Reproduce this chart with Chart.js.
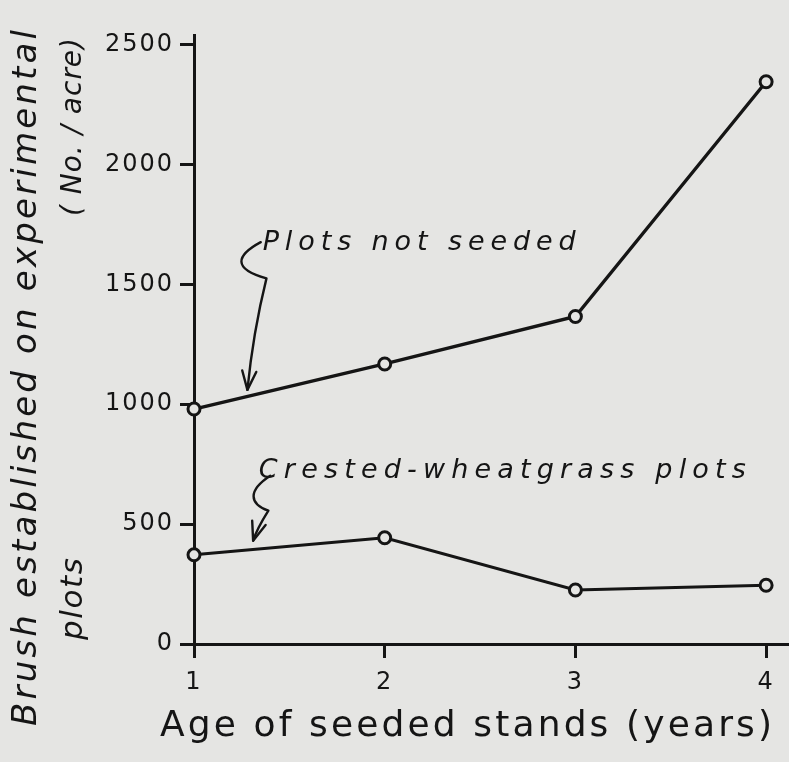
<!DOCTYPE html>
<html>
<head>
<meta charset="utf-8">
<script src="https://cdn.jsdelivr.net/npm/chart.js@4"></script>
<style>
  html, body { margin: 0; padding: 0; background: #e5e5e3; }
  #wrap { width: 789px; height: 762px; }
</style>
</head>
<body>
<div id="wrap"><canvas id="brushChart" width="789" height="762"></canvas></div>
<script>
// values
const years = [1, 2, 3, 4];
const notSeeded = [980, 1168, 1366, 2345];
const crestedWheatgrass = [372, 443, 225, 245];
const yTicks = [0, 500, 1000, 1500, 2000, 2500];
const xTitle = "Age of seeded stands (years)";

const ink = "#151515";
const paper = "#e5e5e3";

// curly pointer arrows, in data units (x = years, y = No./acre)
const notes = [
    {
        text: "Plots not seeded",
        at: [1.36, 1672], width: 313,
        curve: [[1.35, 1676], [1.22, 1620], [1.20, 1565], [1.38, 1525], [1.31, 1300], [1.28, 1060]]
    },
    {
        text: "Crested-wheatgrass plots",
        at: [1.34, 723], width: 487,
        curve: [[1.40, 702], [1.28, 640], [1.29, 585], [1.39, 556], [1.33, 480], [1.31, 431]]
    }
];

function toPoints(vals) {
    return years.map((x, i) => ({ x: x, y: vals[i] }));
}

function fitText(ctx, text, x, y, width) {
    ctx.letterSpacing = "0px";
    const w = ctx.measureText(text).width;
    const sp = Math.max(0, (width - w) / Math.max(1, text.length - 1));
    ctx.letterSpacing = sp + "px";
    ctx.fillText(text, x, y);
    ctx.letterSpacing = "0px";
}

const annotations = {
    id: "annotations",
    beforeDraw(chart) {
        // wider lettering for the tick labels
        chart.ctx.letterSpacing = "2px";
    },
    afterDraw(chart) {
        const ctx = chart.ctx;
        const xs = chart.scales.x, ys = chart.scales.y;
        ctx.letterSpacing = "0px";
        ctx.save();
        ctx.fillStyle = ink;
        ctx.strokeStyle = ink;
        ctx.lineCap = "round";
        ctx.lineJoin = "round";

        // label texts and arrows
        ctx.font = "italic 27px 'DejaVu Sans'";
        ctx.textBaseline = "middle";
        ctx.textAlign = "left";
        notes.forEach(n => {
            fitText(ctx, n.text, xs.getPixelForValue(n.at[0]), ys.getPixelForValue(n.at[1]), n.width);

            const p = n.curve.map(c => [xs.getPixelForValue(c[0]), ys.getPixelForValue(c[1])]);
            ctx.lineWidth = 2.4;
            ctx.beginPath();
            ctx.moveTo(p[0][0], p[0][1]);
            ctx.bezierCurveTo(p[1][0], p[1][1], p[2][0], p[2][1], p[3][0], p[3][1]);
            ctx.quadraticCurveTo(p[4][0], p[4][1], p[5][0], p[5][1]);
            ctx.stroke();
            const ang = Math.atan2(p[5][1] - p[4][1], p[5][0] - p[4][0]);
            const len = 20;
            ctx.beginPath();
            ctx.moveTo(p[5][0] - len * Math.cos(ang - 0.36), p[5][1] - len * Math.sin(ang - 0.36));
            ctx.lineTo(p[5][0], p[5][1]);
            ctx.lineTo(p[5][0] - len * Math.cos(ang + 0.36), p[5][1] - len * Math.sin(ang + 0.36));
            ctx.stroke();
        });

        // x axis title
        ctx.font = "36px 'DejaVu Sans'";
        fitText(ctx, xTitle, 160, 727, 612);

        // y axis title, two rotated lines
        const rot = (txt, x, yStart, width) => {
            ctx.save();
            ctx.translate(x, yStart);
            ctx.rotate(-Math.PI / 2);
            fitText(ctx, txt, 0, 0, width);
            ctx.restore();
        };
        ctx.font = "italic 34px 'DejaVu Sans'";
        rot("Brush established on experimental", 27, 726, 696);
        ctx.font = "italic 31px 'DejaVu Sans'";
        rot("plots", 74, 640, 82);
        ctx.font = "italic 28px 'DejaVu Sans'";
        rot("( No. / acre)", 74, 216, 178);
        ctx.restore();
    }
};

new Chart(document.getElementById("brushChart").getContext("2d"), {
    type: "line",
    data: {
        datasets: [
            {
                label: "Plots not seeded",
                data: toPoints(notSeeded),
                borderColor: ink,
                borderWidth: 3.4,
                pointRadius: 6,
                pointBorderWidth: 3,
                pointBackgroundColor: paper,
                pointBorderColor: ink,
                tension: 0
            },
            {
                label: "Crested-wheatgrass plots",
                data: toPoints(crestedWheatgrass),
                borderColor: ink,
                borderWidth: 3,
                pointRadius: 6,
                pointBorderWidth: 3,
                pointBackgroundColor: paper,
                pointBorderColor: ink,
                tension: 0
            }
        ]
    },
    options: {
        responsive: false,
        animation: false,
        events: [],
        clip: false,
        layout: { autoPadding: false, padding: { top: 35, right: 0, left: 0, bottom: 0 } },
        plugins: {
            legend: { display: false },
            tooltip: { enabled: false }
        },
        scales: {
            x: {
                type: "linear",
                min: 1,
                max: 4.12,
                afterBuildTicks(s) { s.ticks = years.map(v => ({ value: v })); },
                afterFit(s) { s.height = 118; s.paddingRight = 0; },
                border: { display: true, color: ink, width: 3 },
                grid: { drawOnChartArea: false, color: ink, tickLength: 14, tickWidth: 3 },
                ticks: {
                    color: ink,
                    padding: 10,
                    maxRotation: 0,
                    font: { family: "'DejaVu Sans'", size: 24 }
                }
            },
            y: {
                min: 0,
                max: 2540,
                afterBuildTicks(s) { s.ticks = yTicks.map(v => ({ value: v })); },
                afterFit(s) { s.width = 194; },
                border: { display: true, color: ink, width: 3 },
                grid: { drawOnChartArea: false, color: ink, tickLength: 14, tickWidth: 3 },
                ticks: {
                    color: ink,
                    padding: 6,
                    font: { family: "'DejaVu Sans'", size: 24 },
                    callback: v => String(v)
                }
            }
        }
    },
    plugins: [annotations]
});
</script>
</body>
</html>
